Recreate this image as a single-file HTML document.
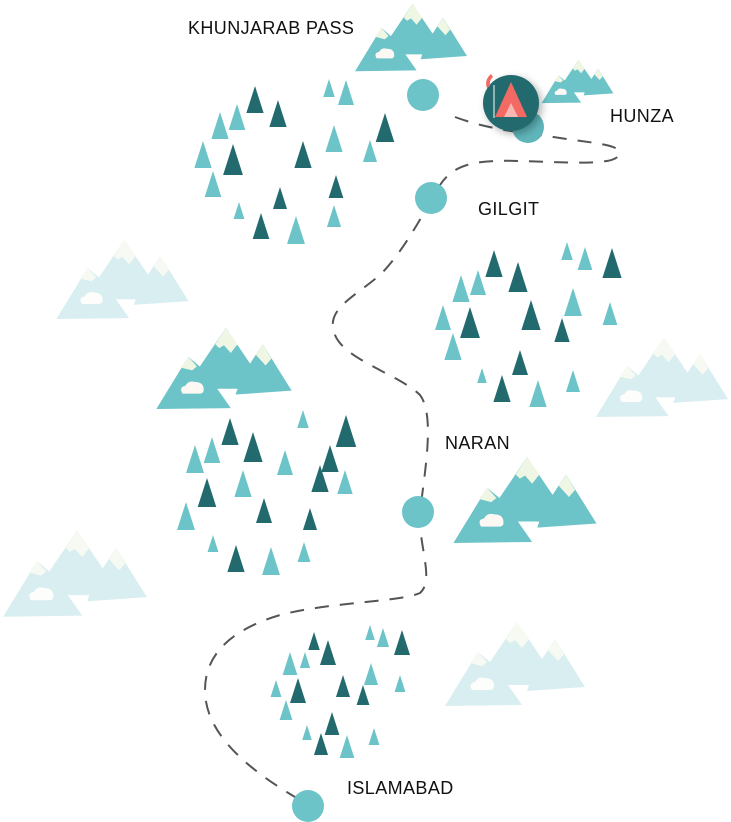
<!DOCTYPE html>
<html><head><meta charset="utf-8"><style>
html,body{margin:0;padding:0;background:#fff;width:731px;height:822px;overflow:hidden}
.l{position:absolute;font-family:"Liberation Sans",sans-serif;font-size:18px;color:#111;letter-spacing:0.4px}
</style></head><body>
<svg width="731" height="822" style="position:absolute;left:0;top:0">
<defs>
<symbol id="m" viewBox="0 0 146 90">
<path d="M3,89 L36,35 L48,45 L75,5 L100,42 L113,22 L143,70 L85,74 L87,68 L66,68 L80,88 Z" fill="#6cc3c8"/>
<path d="M28,46 L36,35 L45,45 L40,49 Z M64,22 L75,5 L87,22 L80,31 L73,23 L68,26 Z M106,33 L113,22 L122,37 L116,44 Z" fill="#f0f6e4"/>
<path d="M30,73 Q26,66 33,65 Q36,59 43,61 Q52,61 52,69 Q52,73 48,73 Z" fill="#fdf8f4"/>
</symbol>
<symbol id="p" viewBox="0 0 146 90">
<path d="M3,89 L36,35 L48,45 L75,5 L100,42 L113,22 L143,70 L85,74 L87,68 L66,68 L80,88 Z" fill="#d9eef1"/>
<path d="M28,46 L36,35 L45,45 L40,49 Z M64,22 L75,5 L87,22 L80,31 L73,23 L68,26 Z M106,33 L113,22 L122,37 L116,44 Z" fill="#f7faf2"/>
<path d="M30,73 Q26,66 33,65 Q36,59 43,61 Q52,61 52,69 Q52,73 48,73 Z" fill="#fdfdfb"/>
</symbol>
<filter id="sh" x="-50%" y="-50%" width="200%" height="200%"><feDropShadow dx="3" dy="3" stdDeviation="4" flood-opacity="0.3"/></filter>
</defs>
<use href="#p" x="53" y="235" width="139" height="85"/>
<use href="#p" x="593" y="333" width="138" height="85"/>
<use href="#p" x="0" y="525" width="150" height="93"/>
<use href="#p" x="440" y="617" width="150" height="90"/>
<use href="#m" x="352" y="0" width="118" height="72"/>
<use href="#m" x="540" y="57" width="75" height="47"/>
<use href="#m" x="153" y="323" width="142" height="87"/>
<use href="#m" x="449" y="452" width="152" height="92"/>
<path d="M455,117 C490,130 520,132 560,138 C600,144 625,145 618,156 C612,166 560,162 520,161 C480,160 455,162 440,185 C425,210 405,250 380,275 C350,300 325,310 335,335 C345,360 400,375 420,395 C435,415 425,470 420,512 C418,545 435,580 420,593 C400,602 330,602 280,615 C230,630 205,655 205,690 C205,730 240,765 300,800" fill="none" stroke="#555" stroke-width="2" stroke-dasharray="14,11"/>
<g fill="#6cc3c8">
<circle cx="423" cy="95" r="16"/><circle cx="431" cy="198" r="16"/><circle cx="418" cy="512" r="16"/><circle cx="308" cy="806" r="16"/><circle cx="528" cy="127" r="16" fill="#5fb5ba"/>
</g>
<circle cx="511" cy="103" r="28" fill="#236a6e" filter="url(#sh)"/>
<path d="M495,117 L511,82 L527,117 Z" fill="#f26a63"/>
<path d="M504,117 L511,103 L518,117 Z" fill="#f7b8b4"/>
<line x1="494" y1="85" x2="494" y2="118" stroke="#fff" stroke-width="1"/>
<path d="M491,74 Q484,80 487,88 L490,86 Q489,80 493,77 Z" fill="#f26a63"/>
<g id="trees"></g>
</svg>
<div class="l" style="left:188px;top:18px">KHUNJARAB PASS</div>
<div class="l" style="left:610px;top:106px">HUNZA</div>
<div class="l" style="left:478px;top:199px">GILGIT</div>
<div class="l" style="left:445px;top:433px">NARAN</div>
<div class="l" style="left:347px;top:778px">ISLAMABAD</div>
<script>
var D="#236a6e",L="#6cc3c8";
var t=[
[255,86,113,D],[278,100,127,D],[220,112,139,L],[237,104,130,L],[203,141,168,L],[233,144,175,D],[303,141,168,D],[213,171,197,L],[280,187,209,D],[239,202,219,L],[261,213,239,D],[296,216,244,L],[329,79,97,L],[346,80,105,L],[385,113,142,D],[334,125,152,L],[370,140,162,L],[336,175,198,D],[334,205,227,L],
[494,250,277,D],[567,242,260,L],[585,247,270,L],[612,248,278,D],[478,270,295,L],[518,262,292,D],[461,275,302,L],[573,288,316,L],[610,302,325,L],[443,305,330,L],[470,307,338,D],[531,300,330,D],[562,318,342,D],[453,333,360,L],[520,350,375,D],[482,368,383,L],[502,375,402,D],[538,380,407,L],[573,370,392,L],
[303,410,428,L],[230,418,445,D],[346,415,447,D],[195,445,473,L],[212,437,463,L],[253,432,462,D],[330,445,472,D],[285,450,475,L],[320,465,492,D],[345,470,494,L],[207,478,507,D],[243,470,497,L],[186,502,530,L],[264,498,523,D],[310,508,530,D],[213,535,552,L],[304,542,562,L],[236,545,572,D],[271,547,575,L],
[314,632,650,D],[370,625,640,L],[383,628,647,L],[402,630,655,D],[328,640,665,D],[290,652,675,L],[305,652,668,L],[371,663,685,L],[298,678,703,D],[276,680,697,L],[343,675,697,D],[363,685,705,D],[400,675,692,L],[286,700,720,L],[332,712,735,D],[307,725,740,L],[374,728,745,L],[321,733,755,D],[347,735,758,L]];
var g=document.getElementById("trees"),s="";
t.forEach(function(a){var h=a[2]-a[1],w=h*0.32;s+='<polygon points="'+a[0]+','+a[1]+' '+(a[0]+w)+','+a[2]+' '+(a[0]-w)+','+a[2]+'" fill="'+a[3]+'"/>';});
g.innerHTML=s;
</script>
</body></html>
